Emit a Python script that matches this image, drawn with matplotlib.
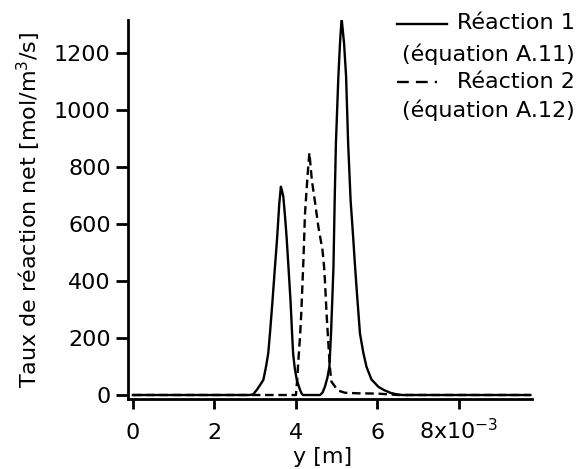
import numpy as np
import matplotlib
matplotlib.use("Agg")
import matplotlib.pyplot as plt
from matplotlib.lines import Line2D

# ---- data (positions in units of 1e-3 m) ----
y_r1 = [0.0, 2.0, 2.85, 2.95, 3.04, 3.12, 3.20, 3.26, 3.32, 3.37, 3.42, 3.48,
        3.54, 3.59, 3.63, 3.66, 3.69, 3.73, 3.77, 3.82, 3.87, 3.90, 3.93, 3.97,
        4.02, 4.10, 4.14, 4.17, 4.59, 4.65, 4.71, 4.77, 4.82, 4.86, 4.89, 4.92,
        4.95, 4.98, 5.04, 5.08, 5.12, 5.18, 5.23, 5.28, 5.34, 5.40, 5.45, 5.51,
        5.57, 5.65, 5.73, 5.85, 6.02, 6.15, 6.31, 6.45, 6.60, 9.75]
rate_r1 = [0, 0, 0, 2, 18, 35, 53, 95, 146, 230, 322, 440,
           555, 670, 731, 715, 696, 630, 555, 440, 322, 230, 146, 95,
           53, 18, 5, 0, 0, 8, 29, 60, 99, 216, 330, 450,
           684, 883, 1117, 1234, 1322, 1234, 1117, 883, 684, 560, 450, 330,
           216, 150, 99, 55, 29, 18, 8, 3, 0, 0]

y_r2 = [0.0, 2.0, 4.00, 4.03, 4.06, 4.10, 4.13, 4.16, 4.18, 4.20, 4.22, 4.26,
        4.30, 4.33, 4.36, 4.39, 4.47, 4.55, 4.65, 4.69, 4.71, 4.75, 4.79, 4.83,
        4.87, 4.96, 5.05, 5.20, 5.50, 6.00, 6.30, 6.50, 9.75]
rate_r2 = [0, 0, 0, 53, 123, 205, 287, 392, 463, 544, 632, 719,
           800, 850, 800, 754, 674, 590, 509, 450, 403, 287, 193, 99,
           47, 29, 15, 8, 6, 5, 2, 0, 0]

scale = 1e-3
x_ticks = [0, 2, 4, 6, 8]
x_tick_labels = ['0', '2', '4', '6', '8x10$^{-3}$']
y_ticks = [0, 200, 400, 600, 800, 1000, 1200]
y_tick_labels = ['0', '200', '400', '600', '800', '1000', '1200']
labels = ['Réaction 1', '(équation A.11)', 'Réaction 2', '(équation A.12)']

plt.rcParams['font.family'] = ['DejaVu Sans']
plt.rcParams['mathtext.fontset'] = 'dejavusans'
FS = 16

W, H = 579, 469
fig = plt.figure(figsize=(W / 100, H / 100), dpi=100)
L, R, T, B = 128, 532, 20, 399
ax = fig.add_axes([L / W, 1 - B / H, (R - L) / W, (B - T) / H])

lw = 1.7
ax.plot(np.array(y_r1) * scale, rate_r1, color='black', lw=lw)
ax.plot(np.array(y_r2) * scale, rate_r2, color='black', lw=lw, linestyle=(0, (3.6, 2.0)))

ax.set_xlim(-0.12e-3, 9.79e-3)
ax.set_ylim(-14, 1316)

for s in ['top', 'right']:
    ax.spines[s].set_visible(False)
for s in ['left', 'bottom']:
    ax.spines[s].set_linewidth(2.0)

ax.set_xticks(np.array(x_ticks) * scale)
ax.set_xticklabels(x_tick_labels)
ax.set_yticks(y_ticks)
ax.set_yticklabels(y_tick_labels)
ax.tick_params(axis='x', direction='out', length=7, width=2, pad=22, labelsize=FS)
ax.tick_params(axis='y', direction='out', length=9, width=2, pad=3.5, labelsize=FS)
for lab in ax.get_xticklabels():
    lab.set_va('baseline')

ax.set_ylabel('Taux de réaction net [mol/m$^3$/s]', fontsize=FS)
ax.yaxis.label.set_va('center')
ax.yaxis.set_label_coords((28.5 - L) / (R - L), 0.5)
ax.set_xlabel('y [m]', fontsize=FS)
ax.xaxis.label.set_va('center')
ax.xaxis.set_label_coords((323 - L) / (R - L), (B - 457) / (B - T))

# legend (manual, figure pixel coords)
def fx(px):
    return px / W
def fy(py):
    return 1 - py / H

text_right = 575
rows = [23, 54, 82, 110]
for lab, ry in zip(labels, rows):
    fig.text(fx(text_right), fy(ry), lab, ha='right', va='center', fontsize=FS)
fig.add_artist(Line2D([fx(397), fx(447)], [fy(24), fy(24)], color='black', lw=lw,
                      transform=fig.transFigure))
fig.add_artist(Line2D([fx(397), fx(437)], [fy(82), fy(82)], color='black', lw=lw,
                      linestyle=(0, (5.0, 3.0)), transform=fig.transFigure))

fig.savefig('out.png', dpi=100)
